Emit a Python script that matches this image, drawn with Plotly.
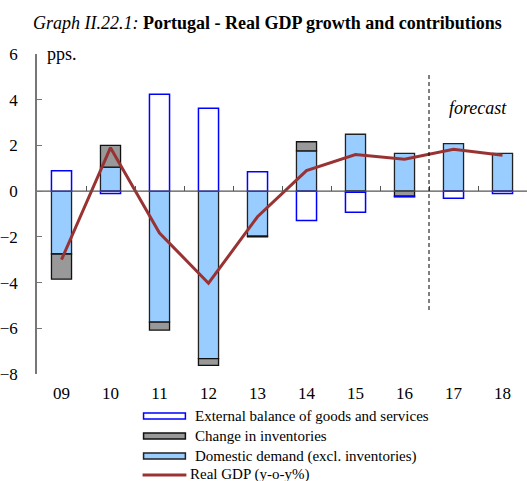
import plotly.graph_objects as go

# Years (two-digit labels) and contributions to real GDP growth, pps.
years = ["09", "10", "11", "12", "13", "14", "15", "16", "17", "18"]
domestic_demand = [-2.75, 1.05, -5.73, -7.33, -1.97, 1.76, 2.49, 1.65, 2.08, 1.65]
inventories = [-1.10, 0.95, -0.35, -0.29, -0.03, 0.40, -0.05, -0.22, 0.0, 0.0]
external_balance = [0.89, -0.10, 4.24, 3.63, 0.85, -1.28, -0.87, -0.03, -0.31, -0.10]
real_gdp = [-3.0, 1.9, -1.83, -4.03, -1.12, 0.90, 1.60, 1.40, 1.83, 1.57]

y_ticks = [-8, -6, -4, -2, 0, 2, 4, 6]
forecast_start = 7.5  # boundary between 2016 and 2017

SERIF = "Liberation Serif"
x = list(range(len(years)))


def nz(vals):
    return [v if v != 0 else None for v in vals]


fig = go.Figure()
fig.add_trace(go.Bar(x=x, y=nz(domestic_demand), name="Domestic demand (excl. inventories)",
                     marker=dict(color="#99CCFF", line=dict(color="#222222", width=1.3)),
                     width=0.41))
fig.add_trace(go.Bar(x=x, y=nz(inventories), name="Change in inventories",
                     marker=dict(color="#999999", line=dict(color="#111111", width=1.3)),
                     width=0.41))
fig.add_trace(go.Bar(x=x, y=nz(external_balance), name="External balance of goods and services",
                     marker=dict(color="#FFFFFF", line=dict(color="#0000FF", width=1.5)),
                     width=0.41))
fig.add_trace(go.Scatter(x=x, y=real_gdp, name="Real GDP (y-o-y%)", mode="lines",
                         line=dict(color="#993333", width=3)))

# Zero line carrying the category-boundary ticks
fig.add_trace(go.Scatter(x=[-0.5, 9.5], y=[0, 0], xaxis="x2", mode="lines",
                         line=dict(color="#555555", width=1.3), hoverinfo="skip"))

fig.update_layout(
    width=527, height=481,
    margin=dict(l=35, r=0, t=54, b=107),
    barmode="relative",
    showlegend=False,
    plot_bgcolor="white", paper_bgcolor="white",
    font=dict(family=SERIF, size=16, color="black"),
    xaxis=dict(range=[-0.5, 9.5], tickvals=x, ticktext=years, showline=False,
               showgrid=False, zeroline=False, ticks="", tickfont=dict(size=17),
               ticklabelstandoff=7),
    xaxis2=dict(range=[-0.5, 9.5], overlaying="x", anchor="free",
                position=8 / 14, side="bottom", showticklabels=False,
                tickvals=[i + 0.5 for i in range(9)], ticks="inside", ticklen=5,
                tickcolor="#555555", tickwidth=1.3, showgrid=False, zeroline=False,
                showline=False),
    yaxis=dict(range=[-8, 6], tickvals=y_ticks, ticks="inside", ticklen=5,
               tickcolor="#777777", showline=True, linecolor="#777777", linewidth=1.5,
               showgrid=False, zeroline=False, tickfont=dict(size=17),
               ticklabelstandoff=14),
)

# Forecast separator
fig.add_shape(type="line", x0=forecast_start, x1=forecast_start, y0=-5.2, y1=5.1,
              xref="x", yref="y", line=dict(color="black", width=1, dash="4px,3px"))
fig.add_annotation(x=8.5, y=3.65, xref="x", yref="y", text="<i>forecast</i>",
                   showarrow=False, font=dict(size=18))
fig.add_annotation(x=0.016, y=1.0, xref="paper", yref="paper", text="pps.",
                   showarrow=False, xanchor="left", yanchor="middle", font=dict(size=18))

# Title
fig.add_annotation(x=0.4695, y=1.0, xref="paper", yref="paper", yshift=43,
                   text="<i>Graph II.22.1:</i> <b>Portugal - Real GDP growth and contributions</b>",
                   showarrow=False, xanchor="center", font=dict(size=18))


# Legend drawn below the plot (pixel positions converted to paper fractions)
def px(v):
    return (v - 35) / 492


def py(v):
    return (374 - v) / 320


legend_items = [
    ("External balance of goods and services", "#FFFFFF", "#0000FF", 416),
    ("Change in inventories", "#999999", "#111111", 436),
    ("Domestic demand (excl. inventories)", "#99CCFF", "#222222", 456),
]
for label, fill, edge, yc in legend_items:
    fig.add_shape(type="rect", xref="paper", yref="paper",
                  x0=px(142), x1=px(184), y0=py(yc + 3), y1=py(yc - 3),
                  fillcolor=fill, line=dict(color=edge, width=1.5))
    fig.add_annotation(x=px(192), y=py(yc), xref="paper", yref="paper", text=label,
                       showarrow=False, xanchor="left", yanchor="middle",
                       font=dict(size=15))
fig.add_shape(type="line", xref="paper", yref="paper", x0=px(141), x1=px(185),
              y0=py(475), y1=py(475), line=dict(color="#993333", width=3))
fig.add_annotation(x=px(187), y=py(474), xref="paper", yref="paper",
                   text="Real GDP (y-o-y%)", showarrow=False, xanchor="left",
                   yanchor="middle", font=dict(size=15))

fig.write_html("out.html")
